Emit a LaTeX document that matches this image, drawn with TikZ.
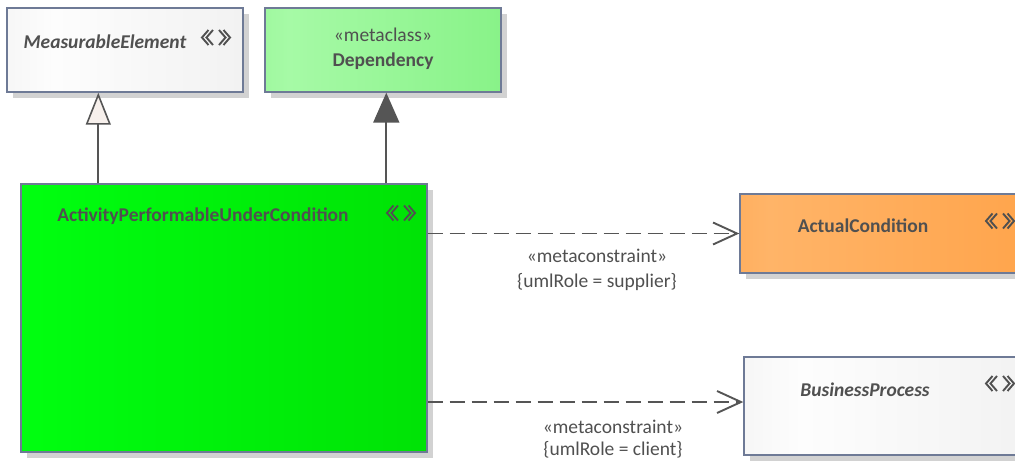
\documentclass[tikz,border=0pt]{standalone}
\usepackage{fontspec}
\setmainfont{Carlito}
\usetikzlibrary{arrows.meta,shadows,calc}
\definecolor{txt}{HTML}{505050}
\definecolor{bordc}{HTML}{6E7A96}
\definecolor{linec}{HTML}{555555}
\definecolor{shadowc}{HTML}{D2D2D2}
\definecolor{triF}{HTML}{F7F0EC}
\definecolor{greyL}{HTML}{E6E6E6}
\definecolor{greyM}{HTML}{FDFDFD}
\definecolor{greyR}{HTML}{EBEBEB}
\definecolor{depL}{HTML}{80EE80}
\definecolor{depM}{HTML}{A6FAA6}
\definecolor{depR}{HTML}{78EE78}
\definecolor{apL}{HTML}{00CC00}
\definecolor{apM}{HTML}{00FF10}
\definecolor{apR}{HTML}{00D400}
\definecolor{acL}{HTML}{FF9A38}
\definecolor{acM}{HTML}{FFB468}
\definecolor{acR}{HTML}{FF9C3C}
\pgfdeclarehorizontalshading{greysh}{100bp}{color(0bp)=(greyL); color(35bp)=(greyM); color(100bp)=(greyR)}
\pgfdeclarehorizontalshading{depsh}{100bp}{color(0bp)=(depL); color(30bp)=(depM); color(100bp)=(depR)}
\pgfdeclarehorizontalshading{apsh}{100bp}{color(0bp)=(apL); color(25bp)=(apM); color(100bp)=(apR)}
\pgfdeclarehorizontalshading{acsh}{100bp}{color(0bp)=(acL); color(30bp)=(acM); color(100bp)=(acR)}
\tikzset{
  box/.style={draw=bordc, line width=1.4pt, inner sep=0pt,
    general shadow={fill=shadowc, draw=none, shadow xshift=6pt, shadow yshift=-6pt}},
  greybox/.style={box, shading=greysh},
  title/.style={text=txt, font=\fontsize{19.5}{21}\selectfont\bfseries, inner sep=0pt},
  ititle/.style={title, font=\fontsize{19.5}{21}\selectfont\bfseries\itshape},
  lbl/.style={text=txt, font=\fontsize{19.5}{21}\selectfont, inner sep=0pt},
  ico/.style={draw=txt, line width=1.9pt, line join=miter},
  genline/.style={draw=linec, line width=1.9pt, -{Triangle[length=32pt,width=25pt,fill=triF,line width=1.6pt]}},
  filledline/.style={draw=linec, line width=1.9pt, -{Triangle[length=30pt,width=26pt,fill=linec]}},
  dashline/.style={draw=linec, line width=1.9pt, dash pattern=on 15pt off 7pt,
    -{Straight Barb[length=24pt,width=22pt,line width=1.9pt]}}
}
\newcommand\stereoicon[1]{%
  \draw[ico] ($(#1)+(-7.5,-7.5)$) -- ++(-6.5,7.5) -- ++(6.5,7.5);
  \draw[ico] ($(#1)+(-3,-7.5)$) -- ++(-6.5,7.5) -- ++(6.5,7.5);
  \draw[ico] ($(#1)+(3,-7.5)$) -- ++(6.5,7.5) -- ++(-6.5,7.5);
  \draw[ico] ($(#1)+(7.5,-7.5)$) -- ++(6.5,7.5) -- ++(-6.5,7.5);
}
\begin{document}
\begin{tikzpicture}[x=1pt,y=-1pt]
\useasboundingbox (0,0) rectangle (1015,461);
\clip (0,0) rectangle (1015,461);
% boxes
\node[greybox, minimum width=236pt, minimum height=84pt] (me) at (125,50) {};
\node[box, shading=depsh, minimum width=236pt, minimum height=84pt] (dep) at (383,50) {};
\node[box, shading=apsh, minimum width=406pt, minimum height=268pt] (apuc) at (224,318) {};
\node[box, shading=acsh, minimum width=290pt, minimum height=79pt] (ac) at (885,233.5) {};
\node[greybox, minimum width=290pt, minimum height=98pt] (bp) at (889,406) {};
% texts
\node[ititle] (metxt) at (105,42) {MeasurableElement};
\coordinate (meico) at (216,37.5);
\stereoicon{meico}
\node[lbl] (depster) at (383,35) {«metaclass»};
\node[title] (deptxt) at (383,61) {Dependency};
\node[title] (aptxt) at (203,216) {ActivityPerformableUnderCondition};
\coordinate (apico) at (401,213);
\stereoicon{apico}
\node[title] (actxt) at (863,226) {ActualCondition};
\coordinate (acico) at (1000,221);
\stereoicon{acico}
\node[ititle] (bptxt) at (865,390) {BusinessProcess};
\coordinate (bpico) at (1000,383.5);
\stereoicon{bpico}
% connectors
\draw[genline] ([xshift=78pt]apuc.north west) -- ([xshift=92pt]me.south west);
\draw[filledline] ([xshift=366pt]apuc.north west) -- ([xshift=122pt]dep.south west);
\draw[dashline] (ac.west -| apuc.east) -- (ac.west);
\coordinate (bpin) at ([yshift=4pt]bp.west);
\draw[dashline] (bpin -| apuc.east) -- (bpin);
% connector labels
\node[lbl] (l1a) at (597,256) {«metaconstraint»};
\node[lbl] (l1b) at (597,282) {\{umlRole = supplier\}};
\node[lbl] (l2a) at (613,427) {«metaconstraint»};
\node[lbl] (l2b) at (613,450) {\{umlRole = client\}};
\end{tikzpicture}
\end{document}
